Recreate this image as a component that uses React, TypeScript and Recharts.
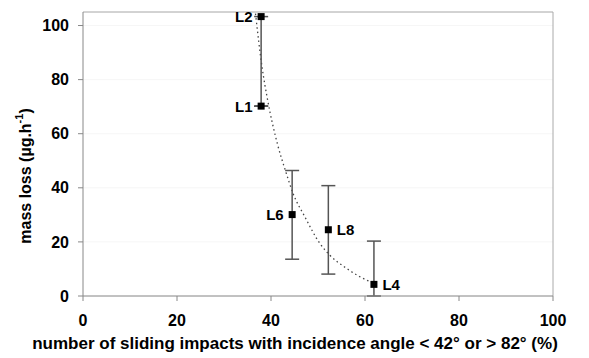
import React from 'react';
import {
  ComposedChart,
  Scatter,
  Line,
  XAxis,
  YAxis,
  ErrorBar,
  CartesianGrid,
  ReferenceLine,
} from 'recharts';

const sampleNames = ['L2', 'L1', 'L6', 'L8', 'L4'];
const impactPct = [37.9, 37.9, 44.5, 52.2, 61.9];
const massLoss = [103.3, 70.2, 30.1, 24.5, 4.3];
const errLow = [33.1, 0, 16.5, 16.4, 4.3];
const errHigh = [0, 0, 16.3, 16.3, 16.0];
const labelSide = ['left', 'left', 'left', 'right', 'right'];

const trendX = [36.7, 38.1, 39.3, 41.4, 43.1, 44.7, 47.2, 50.4, 52.5, 56.1, 60.3, 62.1];
const trendY = [104.4, 84.6, 72.3, 56.0, 46.2, 37.9, 29.3, 19.4, 15.1, 10.2, 5.9, 4.7];

const xTicks = [0, 20, 40, 60, 80, 100];
const yTicks = [0, 20, 40, 60, 80, 100];

const xTitle = 'number of sliding impacts with incidence angle < 42° or > 82° (%)';

const points = sampleNames.map((name, i) => ({
  name,
  x: impactPct[i],
  y: massLoss[i],
  err: [errLow[i], errHigh[i]],
  side: labelSide[i],
}));

const trend = trendX.map((x, i) => ({ x, y: trendY[i] }));

const FONT = 'Liberation Sans, Arial, sans-serif';

const Marker = (props: any) => {
  const { cx, cy, payload } = props;
  if (cx == null || cy == null) return null;
  const s = 7;
  const left = payload.side === 'left';
  return (
    <g>
      <rect x={cx - s / 2} y={cy - s / 2} width={s} height={s} fill="#000" />
      <text
        x={left ? cx - 8.5 : cx + 8.5}
        y={cy}
        textAnchor={left ? 'end' : 'start'}
        dominantBaseline="central"
        fontFamily={FONT}
        fontWeight="bold"
        fontSize={15}
        fill="#000"
      >
        {payload.name}
      </text>
    </g>
  );
};

const YTitle = (props: any) => {
  const vb = props.viewBox || {};
  const cx = 17;
  const cy = vb.y + vb.height / 2 + 22;
  return (
    <text
      x={cx}
      y={cy}
      transform={`rotate(-90, ${cx}, ${cy})`}
      textAnchor="middle"
      dominantBaseline="central"
      fontFamily={FONT}
      fontWeight="bold"
      fontSize={16}
      fill="#000"
    >
      <tspan>mass loss (µg.h</tspan>
      <tspan fontSize={11} dy={-6}>-1</tspan>
      <tspan dy={6}>)</tspan>
    </text>
  );
};

const XTitle = (props: any) => {
  const vb = props.viewBox || {};
  const cx = vb.x + vb.width / 2 - 23;
  const cy = vb.y + 47;
  return (
    <text
      x={cx}
      y={cy}
      textAnchor="middle"
      dominantBaseline="central"
      fontFamily={FONT}
      fontWeight="bold"
      fontSize={17}
      fill="#000"
    >
      {xTitle}
    </text>
  );
};

export default function App() {
  return (
    <ComposedChart
      width={581}
      height={350}
      margin={{ top: 4, right: 36, bottom: 0, left: 0 }}
    >
      <CartesianGrid horizontal vertical={false} stroke="#f6f6f6" />
      <XAxis
        dataKey="x"
        type="number"
        domain={[0, 100]}
        ticks={xTicks}
        height={62}
        tickSize={5}
        tickMargin={14}
        stroke="#888"
        tick={{ fill: '#000', fontFamily: FONT, fontWeight: 'bold', fontSize: 16 }}
        label={<XTitle />}
      />
      <YAxis
        dataKey="y"
        type="number"
        domain={[0, 105]}
        ticks={yTicks}
        width={75}
        tickSize={5}
        tickMargin={9}
        stroke="#888"
        tick={{ fill: '#000', fontFamily: FONT, fontWeight: 'bold', fontSize: 16 }}
        label={<YTitle />}
      />
      <ReferenceLine y={105} stroke="#aaa" />
      <ReferenceLine x={100} stroke="#aaa" />
      <Line
        data={trend}
        dataKey="y"
        type="monotone"
        dot={false}
        activeDot={false}
        stroke="#444"
        strokeWidth={1.3}
        strokeDasharray="1.5 3"
        isAnimationActive={false}
      />
      <Scatter data={points} dataKey="y" shape={<Marker />} isAnimationActive={false}>
        <ErrorBar dataKey="err" direction="y" width={7} stroke="#555" strokeWidth={1.5} />
      </Scatter>
    </ComposedChart>
  );
}
